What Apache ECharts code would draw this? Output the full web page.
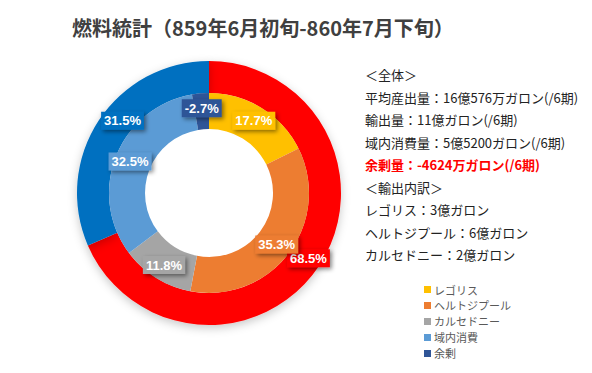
<!DOCTYPE html>
<html>
<head>
<meta charset="utf-8">
<script src="https://cdn.jsdelivr.net/npm/echarts@6/dist/echarts.min.js"></script>
<style>html,body{margin:0;padding:0;background:#fff;}#c{width:592px;height:373px;}</style>
</head>
<body>
<div id="c"></div>
<script>
const chartTitle = '燃料統計（859年6月初旬-860年7月下旬）';
// inner ring (億ガロン): breakdown of production + surplus
const innerNames = ['レゴリス', 'ヘルトジプール', 'カルセドニー', '域内消費', '余剰'];
const innerValues = [3, 6, 2, 5.52, -0.4624];
const innerColors = ['#FFC000', '#ED7D31', '#A5A5A5', '#5B9BD5', '#2F5597'];
// outer ring (億ガロン): export vs. net domestic
const outerNames = ['輸出量', '域内消費量(差引)'];
const outerValues = [11, 5.0576];
const outerColors = ['#FF0000', '#0070C0'];
// side notes
const noteLines = [
  '＜全体＞',
  '平均産出量：16億576万ガロン(/6期)',
  '輸出量：11億ガロン(/6期)',
  '域内消費量：5億5200ガロン(/6期)',
  '余剰量：-4624万ガロン(/6期)',
  '＜輸出内訳＞',
  'レゴリス：3億ガロン',
  'ヘルトジプール：6億ガロン',
  'カルセドニー：2億ガロン'
];
const highlightNote = 4;

const FONT = '"Noto Sans CJK JP", "Noto Sans", sans-serif';

function buildData(names, values, colors, offsets) {
  const total = values.reduce((s, v) => s + Math.abs(v), 0);
  return names.map((n, i) => ({
    name: n,
    value: Math.abs(values[i]),
    pct: (values[i] < 0 ? -1 : 1) * Math.abs(values[i]) / total * 100,
    itemStyle: { color: colors[i] },
    label: { backgroundColor: colors[i], offset: (offsets && offsets[i]) || [0, 0] }
  }));
}

const labelStyle = {
  show: true,
  position: 'inside',
  color: '#fff',
  fontSize: 13,
  fontWeight: 'bold',
  fontFamily: '"Liberation Sans", Arial, sans-serif',
  padding: [3, 3, 2, 3],
  shadowColor: 'rgba(0,0,0,0.45)',
  shadowBlur: 4,
  shadowOffsetX: 2,
  shadowOffsetY: 2,
  formatter: p => p.data.pct.toFixed(1) + '%'
};

const chart = echarts.init(document.getElementById('c'), null, { renderer: 'svg' });
chart.setOption({
  animation: false,
  title: {
    text: chartTitle,
    left: 67,
    top: 12,
    textStyle: { fontSize: 20, fontWeight: 'bold', color: '#404040', fontFamily: FONT }
  },
  legend: {
    data: innerNames,
    orient: 'vertical',
    left: 419,
    top: 279,
    icon: 'rect',
    itemWidth: 7,
    itemHeight: 7,
    itemGap: 5,
    textStyle: { fontSize: 11, color: '#595959', fontFamily: FONT, padding: [0, 0, 0, -2] }
  },
  graphic: noteLines.map((t, i) => ({
    type: 'text',
    left: 365,
    top: 68 + i * 22.5,
    style: {
      text: t,
      font: (i === highlightNote ? 'bold ' : '') + '13px ' + FONT,
      fill: i === highlightNote ? '#FF0000' : '#222'
    }
  })),
  series: [
    {
      type: 'pie',
      name: 'outer',
      center: [209, 193],
      radius: [100, 132],
      startAngle: 90,
      clockwise: true,
      silent: true,
      avoidLabelOverlap: false,
      labelLayout: { hideOverlap: false },
      labelLine: { show: false },
      itemStyle: { shadowColor: 'rgba(0,0,0,0.22)', shadowBlur: 10, shadowOffsetY: 3 },
      label: labelStyle,
      data: buildData(outerNames, outerValues, outerColors, [[0, 0], [13, -7]])
    },
    {
      type: 'pie',
      name: 'inner',
      center: [209, 193],
      radius: [64, 100],
      startAngle: 90,
      clockwise: true,
      silent: true,
      avoidLabelOverlap: false,
      labelLayout: { hideOverlap: false },
      labelLine: { show: false },
      label: labelStyle,
      data: buildData(innerNames, innerValues, innerColors)
    }
  ]
});
</script>
</body>
</html>
